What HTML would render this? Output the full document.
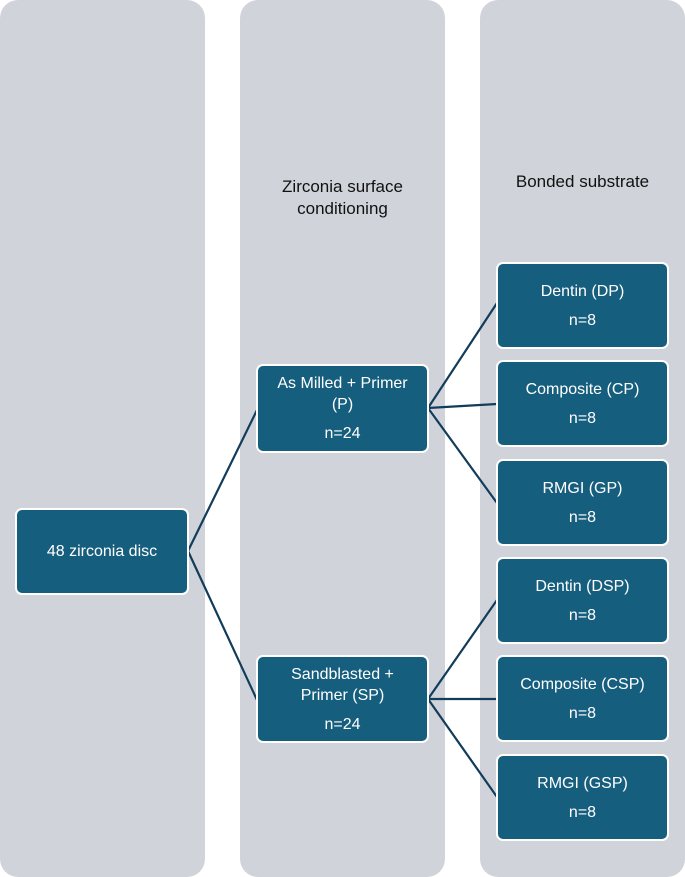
<!DOCTYPE html>
<html><head><meta charset="utf-8"><style>
body{margin:0;width:685px;height:877px;background:#fff;position:relative;overflow:hidden;font-family:"Liberation Sans",sans-serif}
.col{position:absolute;top:0;width:205px;height:877px;background:#d0d4da;border-radius:18px}
.b{position:absolute;background:#165e7e;border:2px solid #fff;border-radius:7px;color:#fff;font-size:16px;display:flex;flex-direction:column;align-items:center;justify-content:center;text-align:center;line-height:21px;box-sizing:border-box}
.h{position:absolute;font-size:17px;color:#111;text-align:center;line-height:22px}
svg{position:absolute;left:0;top:0}
</style></head><body>
<div class="col" style="left:0"></div>
<div class="col" style="left:240px"></div>
<div class="col" style="left:480px"></div>
<div class="h" style="left:240px;width:205px;top:176px">Zirconia surface<br>conditioning</div>
<div class="h" style="left:480px;width:205px;top:171px">Bonded substrate</div>
<svg width="685" height="877"><g stroke="#123d5a" stroke-width="2.2" fill="none">
<path d="M188 551L257 410M188 551L257 700"/>
<path d="M428 408L497 303M428 408L497 404M428 408L497 503"/>
<path d="M428 699L497 600M428 699L497 699M428 699L497 797"/>
</g></svg>
<div class="b" style="left:15px;top:508px;width:174px;height:87px">48 zirconia disc</div>
<div class="b" style="left:256px;top:364px;width:173px;height:89px"><div>As Milled + Primer<br>(P)</div><div style="margin-top:8px">n=24</div></div>
<div class="b" style="left:256px;top:655px;width:173px;height:88px"><div>Sandblasted +<br>Primer (SP)</div><div style="margin-top:8px">n=24</div></div>
<div class="b" style="left:496px;top:262px;width:173px;height:87px"><div>Dentin (DP)</div><div style="margin-top:8px">n=8</div></div>
<div class="b" style="left:496px;top:360px;width:173px;height:87px"><div>Composite (CP)</div><div style="margin-top:8px">n=8</div></div>
<div class="b" style="left:496px;top:459px;width:173px;height:87px"><div>RMGI (GP)</div><div style="margin-top:8px">n=8</div></div>
<div class="b" style="left:496px;top:557px;width:173px;height:87px"><div>Dentin (DSP)</div><div style="margin-top:8px">n=8</div></div>
<div class="b" style="left:496px;top:655px;width:173px;height:87px"><div>Composite (CSP)</div><div style="margin-top:8px">n=8</div></div>
<div class="b" style="left:496px;top:754px;width:173px;height:87px"><div>RMGI (GSP)</div><div style="margin-top:8px">n=8</div></div>
</body></html>
